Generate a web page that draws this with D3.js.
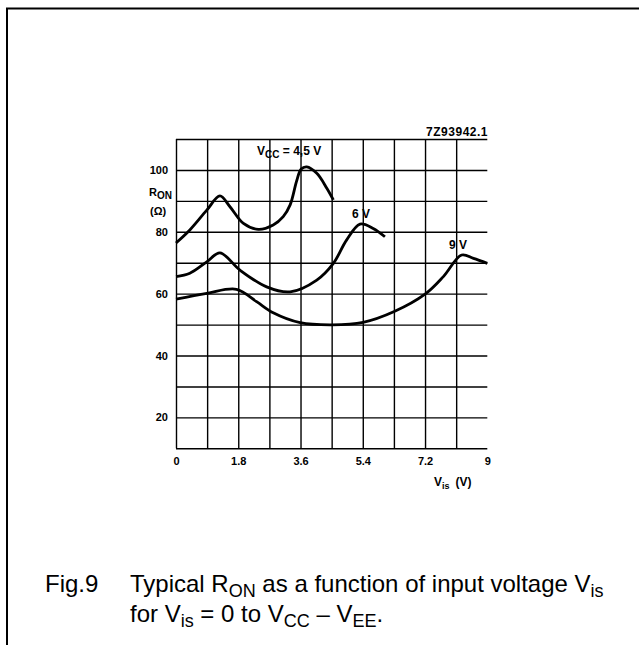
<!DOCTYPE html>
<html>
<head>
<meta charset="utf-8">
<script src="https://cdn.jsdelivr.net/npm/d3@7"></script>
<style>
  body { margin: 0; background: #fff; }
  text { font-family: "Liberation Sans", Arial, sans-serif; fill: #000; }
  .lbl { font-weight: bold; font-size: 11px; }
  .ann { font-weight: bold; font-size: 12px; }
</style>
</head>
<body>
<div id="chart"></div>
<script>
// curves: V_is (V) and R_ON (ohm)
var v45 = [0, 0.4, 0.89, 1.27, 1.56, 1.95, 2.38, 2.81, 3.10, 3.30, 3.49, 3.62, 3.78, 4.07, 4.36, 4.55]
var r45 = [76.4, 80.6, 87, 91.6, 88.1, 82.7, 80.8, 82.2, 84.9, 88.7, 96.5, 100.3, 101, 98.9, 94.1, 90.3]

var v6 = [0, 0.4, 0.89, 1.27, 1.85, 2.62, 3.30, 4.07, 4.55, 4.93, 5.32, 5.70, 6.04]
var r6 = [65.5, 66.6, 70.3, 73.2, 67.6, 62.2, 60.6, 64.4, 69.8, 77.3, 82.5, 81.1, 78.4]

var v9 = [0, 0.89, 1.75, 2.33, 2.81, 3.59, 4.51, 5.41, 6.31, 7.21, 7.73, 8.26, 8.6, 9]
var r9 = [58.2, 60.1, 61.4, 57.4, 53.8, 50.6, 49.9, 50.7, 54.2, 59.9, 65.5, 72.5, 71.4, 69.8]

var xTicks = [0, 1.8, 3.6, 5.4, 7.2, 9]
var yTicks = [20, 40, 60, 80, 100]
var xGrid = d3.range(0, 10).map(function (i) { return +(i * 0.9).toFixed(1) }) // every 0.9 V
var yGrid = d3.range(10, 111, 10)

var width = 639
height = 645

var svg = d3.select("#chart")
  .append("svg")
  .attr("width", width)
  .attr("height", height)

// page frame (top and left edges only, like the scan)
svg.append("path")
  .attr("d", "M7,645 V8.5 H639")
  .attr("fill", "none")
  .attr("stroke", "#000")
  .attr("stroke-width", 2)

var x = d3.scaleLinear().domain([0, 9]).range([176, 487.3])
var y = d3.scaleLinear().domain([10, 110]).range([448.3, 139])

var g = svg.append("g")

// grid lines
g.append("g")
  .attr("transform", "translate(0," + y(110) + ")")
  .call(d3.axisBottom(x).tickValues(xGrid).tickSize(y(10) - y(110)).tickFormat(""))
  .call(function (a) { a.select(".domain").remove() })
g.append("g")
  .attr("transform", "translate(" + x(0) + ",0)")
  .call(d3.axisRight(y).tickValues(yGrid).tickSize(x(9) - x(0)).tickFormat(""))
  .call(function (a) { a.select(".domain").remove() })
g.selectAll(".tick line").attr("stroke", "#000").attr("stroke-width", 1.4)

// tick labels
var xa = svg.append("g")
  .attr("transform", "translate(0," + y(10) + ")")
  .call(d3.axisBottom(x).tickValues(xTicks).tickSize(0).tickPadding(9).tickFormat(function (d) { return d }))
xa.select(".domain").remove()
xa.selectAll("text").attr("class", "lbl").attr("font-family", null).attr("font-size", null)

var ya = svg.append("g")
  .attr("transform", "translate(" + x(0) + ",0)")
  .call(d3.axisLeft(y).tickValues(yTicks).tickSize(0).tickPadding(8))
ya.select(".domain").remove()
ya.selectAll("text").attr("class", "lbl").attr("font-family", null).attr("font-size", null)

// axis titles
var rt = svg.append("text").attr("class", "lbl").attr("x", 149).attr("y", 196)
rt.append("tspan").text("R")
rt.append("tspan").attr("font-size", "10px").attr("dy", 3).text("ON")
svg.append("text").attr("class", "lbl").attr("x", 150).attr("y", 215).text("(\u03A9)")

var vt = svg.append("text").attr("class", "ann").attr("x", 434).attr("y", 486)
vt.append("tspan").text("V")
vt.append("tspan").attr("font-size", "9px").attr("dy", 3).text("is")
vt.append("tspan").attr("dy", -3).attr("dx", 6).text("(V)")

svg.append("text").attr("class", "ann").attr("x", 488).attr("y", 136)
  .attr("text-anchor", "end").attr("letter-spacing", "0.5px").text("7Z93942.1")

// curves
var line = d3.line()
  .x(function (d) { return x(d[0]) })
  .y(function (d) { return y(d[1]) })
  .curve(d3.curveCatmullRom.alpha(0.5))

var series = [[v45, r45], [v6, r6], [v9, r9]]
series.forEach(function (s) {
  svg.append("path")
    .datum(d3.zip(s[0], s[1]))
    .attr("d", line)
    .attr("fill", "none")
    .attr("stroke", "#000")
    .attr("stroke-width", 2.8)
    .attr("stroke-linejoin", "round")
})

// curve labels
var l1 = svg.append("text").attr("class", "ann").attr("x", 257).attr("y", 155)
l1.append("tspan").text("V")
l1.append("tspan").attr("font-size", "10px").attr("dy", 3).text("CC")
l1.append("tspan").attr("dy", -3).text(" = 4,5 V")
svg.append("text").attr("class", "ann").attr("x", 352).attr("y", 218).text("6 V")
svg.append("text").attr("class", "ann").attr("x", 449).attr("y", 249).text("9 V")

// caption
var cap = svg.append("g").style("font-size", "24px")
cap.append("text").attr("x", 45).attr("y", 592).text("Fig.9")
var c1 = cap.append("text").attr("x", 130).attr("y", 592)
c1.append("tspan").text("Typical R")
c1.append("tspan").attr("font-size", "18px").attr("dy", 5).text("ON")
c1.append("tspan").attr("dy", -5).text(" as a function of input voltage V")
c1.append("tspan").attr("font-size", "18px").attr("dy", 5).text("is")

var c2 = cap.append("text").attr("x", 130).attr("y", 622)
c2.append("tspan").text("for V")
c2.append("tspan").attr("font-size", "18px").attr("dy", 5).text("is")
c2.append("tspan").attr("dy", -5).text(" = 0 to V")
c2.append("tspan").attr("font-size", "18px").attr("dy", 5).text("CC")
c2.append("tspan").attr("dy", -5).text(" \u2013 V")
c2.append("tspan").attr("font-size", "18px").attr("dy", 5).text("EE")
c2.append("tspan").attr("dy", -5).text(".")
</script>
</body>
</html>
